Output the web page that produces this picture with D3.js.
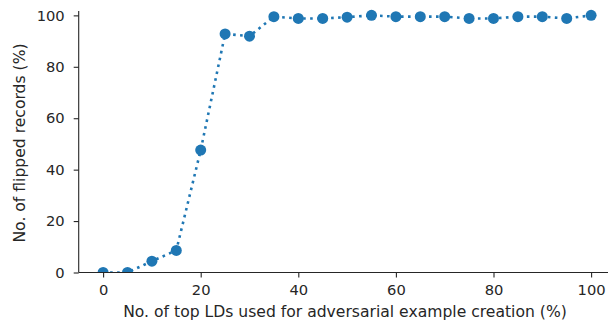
<!DOCTYPE html>
<html>
<head>
<meta charset="utf-8">
<script src="https://cdn.jsdelivr.net/npm/d3@7"></script>
<style>
  body { margin: 0; background: #fff; }
  svg { display: block; }
  text { font-family: "DejaVu Sans", sans-serif; fill: #262626; }
</style>
</head>
<body>
<svg width="608" height="329"></svg>
<script>
var svg = d3.select("svg"),
    width = +svg.attr("width"),
    height = +svg.attr("height");

// share of top LDs used (%)
var ldShare = [0, 5, 10, 15, 20, 25, 30, 35, 40, 45, 50, 55, 60, 65, 70, 75, 80, 85, 90, 95, 100];
// flipped records (%)
var flipped = [0, 0, 4.4, 8.6, 47.6, 92.8, 91.9, 99.5, 98.8, 98.8, 99.3, 100, 99.5, 99.5, 99.5, 98.8, 98.8, 99.5, 99.5, 98.8, 100];
var xTicks = [0, 20, 40, 60, 80, 100];
var yTicks = [0, 20, 40, 60, 80, 100];

var color = "#1f77b4";

var x = d3.scaleLinear().domain([-5, 105]).range([78.7, 615.5]);
var y = d3.scaleLinear().domain([0, 101.7]).range([272.5, 11]);

var pts = ldShare.map(function (d, i) { return {x: d, y: flipped[i]}; });

// markers get cut off at the x axis, like matplotlib's clip_on
svg.append("defs").append("clipPath")
    .attr("id", "plotclip")
    .append("rect")
    .attr("x", x.range()[0])
    .attr("y", 0)
    .attr("width", width)
    .attr("height", y(0));

var plot = svg.append("g").attr("clip-path", "url(#plotclip)");

var line = d3.line()
    .x(function (d) { return x(d.x); })
    .y(function (d) { return y(d.y); });

plot.append("path")
    .datum(pts)
    .attr("d", line)
    .attr("fill", "none")
    .attr("stroke", color)
    .attr("stroke-width", 2.6)
    .attr("stroke-dasharray", "2.6,4.4");

plot.selectAll(".dot")
    .data(pts)
    .enter()
    .append("circle")
    .attr("class", "dot")
    .attr("cx", function (d) { return x(d.x); })
    .attr("cy", function (d) { return y(d.y); })
    .attr("r", 5.5)
    .attr("fill", color);

// axes
var xAxis = svg.append("g")
    .attr("transform", "translate(0," + y(0) + ")")
    .call(d3.axisBottom(x).tickValues(xTicks).tickSize(5).tickPadding(7));

var yAxis = svg.append("g")
    .attr("transform", "translate(" + x.range()[0] + ",0)")
    .call(d3.axisLeft(y).tickValues(yTicks).tickSize(5).tickPadding(9));

[xAxis, yAxis].forEach(function (g) {
    g.selectAll(".domain").attr("stroke", "#262626").attr("stroke-width", 1.1);
    g.selectAll(".tick line").attr("stroke", "#262626").attr("stroke-width", 1.1);
    g.selectAll(".tick text").style("font-size", "14.7px").attr("fill", "#262626");
});
xAxis.select(".domain").attr("d", "M" + x.range()[0] + ",0H" + width);
yAxis.select(".domain").attr("d", "M0," + y.range()[1] + "V" + y(0));

svg.append("text")
    .attr("x", 345)
    .attr("y", 317)
    .attr("text-anchor", "middle")
    .style("font-size", "15.6px")
    .text("No. of top LDs used for adversarial example creation (%)");

svg.append("text")
    .attr("transform", "translate(25,143) rotate(-90)")
    .attr("text-anchor", "middle")
    .style("font-size", "15.6px")
    .text("No. of flipped records (%)");
</script>
</body>
</html>
